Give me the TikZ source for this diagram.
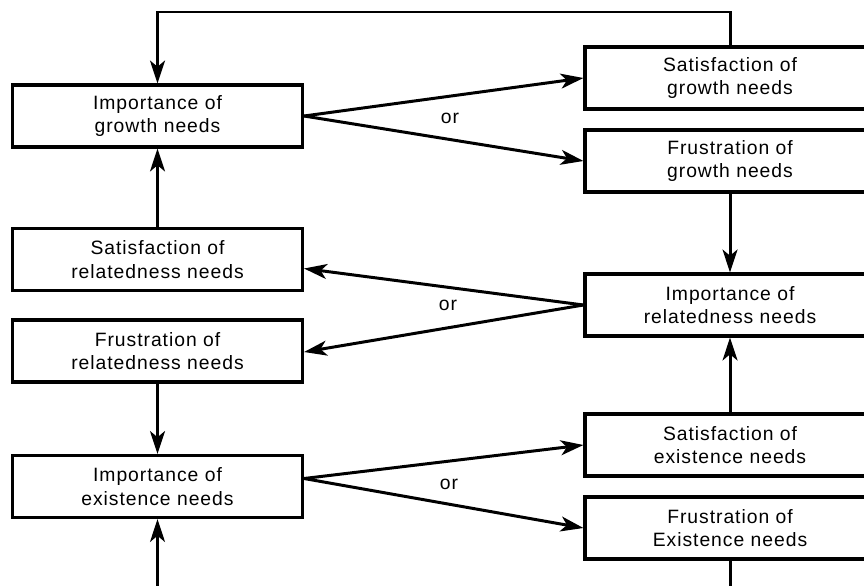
\documentclass[tikz,border=0pt]{standalone}
\usepackage{fontspec}
\setmainfont{Liberation Sans}[LetterSpace=5]
\usepackage{tikz}
\usetikzlibrary{arrows.meta}

\begin{document}
\begin{tikzpicture}[x=0.02cm, y=-0.02cm,
				->,
				>={Stealth[length=13pt,width=8.5pt,inset=3.5pt]},
				line width=1.7pt,
				need/.style={draw, line width=1.8pt, minimum width=5.8cm, minimum height=1.24cm, align=center, font=\fontsize{11}{13.2}\selectfont},
				ortext/.style={font=\fontsize{11}{13.2}\selectfont}]
				\useasboundingbox (0,0) rectangle (864,585);
				\clip (0,0) rectangle (864,585);
				% left column
				\node at (157.5,116) (gI) [need] {Importance of\\growth needs};
				\node at (157.5,259.5) (rS) [need] {Satisfaction of\\relatedness needs};
				\node at (157.5,351) (rF) [need] {Frustration of\\relatedness needs};
				\node at (157.5,486.5) (eI) [need] {Importance of\\existence needs};
				% right column
				\node at (730,78) (gS) [need] {Satisfaction of\\growth needs};
				\node at (730,161) (gF) [need] {Frustration of\\growth needs};
				\node at (730,305) (rI) [need] {Importance of\\relatedness needs};
				\node at (730,445) (eS) [need] {Satisfaction of\\existence needs};
				\node at (730,528) (eF) [need] {Frustration of\\Existence needs};
				% or labels
				\node at (450,118) (or1) [ortext] {or};
				\node at (448,305) (or2) [ortext] {or};
				\node at (449,484) (or3) [ortext] {or};
				\coordinate (topL) at (157.5,12);
				\coordinate (topR) at (730,12);
				\coordinate (botL) at (157.5,590);
				\coordinate (botR) at (730,590);
				\draw (gI.east) -- (gS.west);
				\draw (gI.east) -- (gF.west);
				\draw (rI.west) -- ([yshift=-0.18cm]rS.east);
				\draw (rI.west) -- ([yshift=-0.02cm]rF.east);
				\draw ([yshift=0.16cm]eI.east) -- (eS.west);
				\draw ([yshift=0.16cm]eI.east) -- (eF.west);
				\draw (gF.south) -- (rI.north);
				\draw (eS.north) -- (rI.south);
				\draw (rS.north) -- (gI.south);
				\draw (rF.south) -- (eI.north);
				\draw (botL) -- (eI.south);
				\draw[-] (eF.south) -- (botR);
				\draw (gS.north) -- (topR) -- (topL) -- (gI.north);
			\end{tikzpicture}
\end{document}
